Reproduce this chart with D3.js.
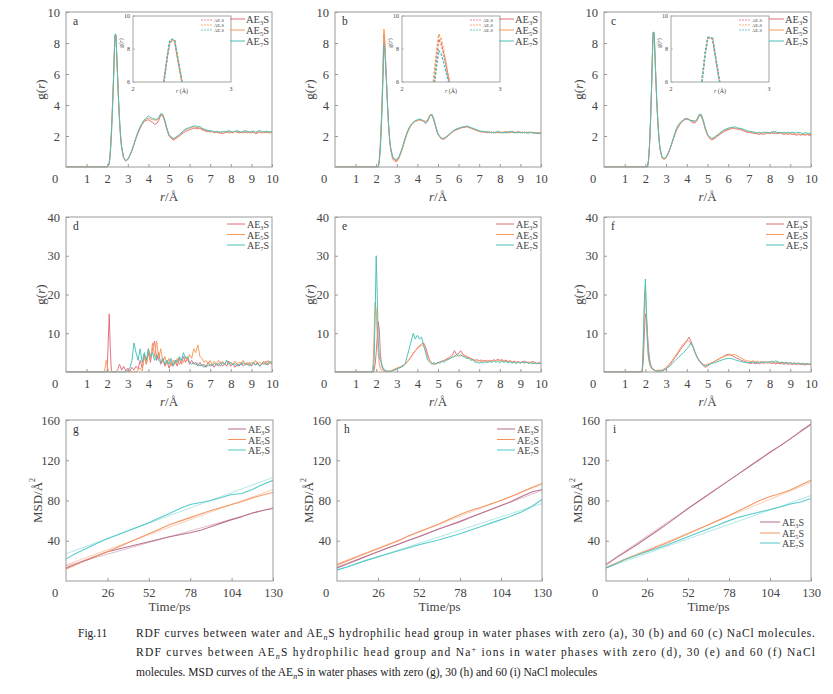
<!DOCTYPE html>
<html><head><meta charset="utf-8">
<script src="https://cdnjs.cloudflare.com/ajax/libs/d3/7.8.5/d3.min.js"></script>
<style>body{margin:0;background:#fff}svg{display:block}svg text{font-family:"Liberation Serif","Times New Roman",serif}</style>
</head><body><svg id="c" width="833" height="694"></svg>
<script>
// ---------- DATA ----------
const legendSubs = ["3","5","7"];
const rdfColors = ["#e36b78","#f49a5a","#46c0b8"];
const msdColors = ["#b86b8b","#f4925e","#50c8c8"];
const rdfXTicks = [1,2,3,4,5,6,7,8,9,10];
const rdfWaterYTicks = [2,4,6,8,10];
const rdfNaYTicks = [10,20,30,40];
const msdXTicks = [26,52,78,104,130];
const msdYTicks = [40,80,120,160];

const rWater = [0,2.0,2.1,2.15,2.2,2.25,2.3,2.325,2.35,2.375,2.4,2.425,2.45,2.475,2.5,2.55,2.6,2.65,2.7,2.8,2.9,
3.0,3.1,3.2,3.3,3.4,3.5,3.6,3.7,3.8,3.9,
4.0,4.1,4.2,4.3,4.4,4.5,4.6,4.7,4.8,4.9,
5.0,5.1,5.2,5.3,5.4,5.5,5.6,5.7,5.8,5.9,
6.0,6.1,6.2,6.3,6.4,6.5,6.6,6.7,6.8,6.9,
7.0,7.1,7.2,7.3,7.4,7.5,7.6,7.7,7.8,7.9,
8.0,8.1,8.2,8.3,8.4,8.5,8.6,8.7,8.8,8.9,
9.0,9.1,9.2,9.3,9.4,9.5,9.6,9.7,9.8,9.9,10.0];

const gA3 = [0,0,0.3,1,2.2,3.8,5.5,6.5,7.5,8.4,8.5,8.5,7.6,6.8,6.0,4.4,3.0,2.0,1.3,0.6,0.4,
0.5,0.75,1.05,1.45,1.85,2.2,2.5,2.75,2.95,3.0,
3.05,2.95,2.9,2.75,2.8,3.0,3.35,3.3,2.9,2.4,
2.0,1.85,1.75,1.8,1.9,2.0,2.1,2.2,2.3,2.35,
2.4,2.45,2.5,2.5,2.45,2.5,2.4,2.35,2.3,2.3,
2.25,2.3,2.2,2.25,2.2,2.2,2.15,2.2,2.25,2.2,
2.25,2.2,2.3,2.25,2.2,2.25,2.2,2.25,2.2,2.25,
2.2,2.25,2.15,2.2,2.25,2.2,2.25,2.2,2.25,2.2,2.25];
const gA5 = [0,0,0.2,0.9,2.0,3.6,5.4,6.4,7.5,8.4,8.55,8.5,7.6,6.8,5.9,4.3,2.9,1.9,1.2,0.55,0.38,
0.48,0.72,1.05,1.45,1.9,2.25,2.55,2.8,3.0,3.1,
3.15,3.1,3.05,3.05,3.0,3.15,3.4,3.35,2.95,2.45,
2.05,1.9,1.8,1.85,1.95,2.05,2.15,2.3,2.4,2.45,
2.5,2.55,2.6,2.55,2.55,2.5,2.5,2.4,2.35,2.35,
2.3,2.3,2.25,2.3,2.25,2.2,2.25,2.3,2.25,2.3,
2.2,2.25,2.3,2.25,2.3,2.2,2.3,2.25,2.3,2.2,
2.25,2.3,2.2,2.25,2.3,2.2,2.25,2.3,2.2,2.25,2.2];
const gA7 = [0,0,0.2,0.8,1.9,3.5,5.3,6.4,7.6,8.5,8.6,8.5,7.7,6.9,6.0,4.4,3.0,2.0,1.3,0.6,0.4,
0.5,0.75,1.1,1.5,1.9,2.3,2.6,2.85,3.05,3.15,
3.3,3.2,3.15,3.1,3.05,3.2,3.45,3.4,3.0,2.5,
2.1,1.95,1.85,1.9,2.0,2.1,2.2,2.35,2.45,2.5,
2.55,2.6,2.65,2.65,2.6,2.6,2.5,2.45,2.4,2.35,
2.35,2.3,2.3,2.25,2.3,2.25,2.3,2.25,2.3,2.35,
2.3,2.25,2.3,2.35,2.3,2.25,2.3,2.35,2.3,2.25,
2.3,2.3,2.25,2.3,2.35,2.3,2.25,2.3,2.3,2.25,2.3];

const gB3 = [0,0,0,0.4,1.3,2.8,4.8,6.0,7.4,8.6,8.3,7.7,7.0,6.2,5.5,4.0,2.7,1.8,1.2,0.6,0.45,
0.4,0.6,0.95,1.35,1.8,2.2,2.5,2.7,2.85,2.95,
3.0,3.05,3.0,2.95,2.85,3.0,3.3,3.35,3.0,2.5,
2.1,1.9,1.8,1.8,1.9,2.0,2.15,2.25,2.35,2.4,
2.45,2.5,2.55,2.55,2.6,2.55,2.5,2.45,2.4,2.35,
2.3,2.3,2.25,2.25,2.2,2.25,2.2,2.25,2.2,2.25,
2.2,2.25,2.2,2.25,2.2,2.25,2.3,2.25,2.2,2.25,
2.2,2.25,2.2,2.25,2.2,2.25,2.2,2.2,2.15,2.2,2.2];
const gB5 = [0,0,0,0.5,1.5,3.0,5.0,6.3,7.7,8.9,8.6,7.9,7.1,6.3,5.6,4.0,2.7,1.7,1.1,0.5,0.35,
0.35,0.55,0.9,1.3,1.75,2.15,2.45,2.7,2.85,2.95,
3.0,3.05,3.05,3.0,2.95,3.05,3.35,3.4,3.05,2.55,
2.1,1.9,1.8,1.85,1.95,2.05,2.15,2.25,2.35,2.45,
2.5,2.55,2.55,2.6,2.6,2.55,2.5,2.45,2.4,2.35,
2.3,2.25,2.3,2.25,2.25,2.2,2.25,2.2,2.25,2.2,
2.25,2.2,2.25,2.3,2.25,2.2,2.25,2.2,2.25,2.3,
2.25,2.2,2.25,2.2,2.25,2.2,2.25,2.15,2.2,2.2,2.15];
const gB7 = [0,0,0,0.3,1.1,2.5,4.3,5.5,6.8,7.9,7.7,7.2,6.6,6.0,5.4,4.0,2.8,1.9,1.3,0.65,0.5,
0.5,0.65,1.0,1.4,1.85,2.25,2.55,2.75,2.9,3.0,
3.05,3.1,3.05,2.95,2.8,2.95,3.3,3.4,3.1,2.6,
2.15,1.95,1.85,1.85,1.95,2.05,2.2,2.3,2.4,2.45,
2.5,2.55,2.6,2.6,2.65,2.6,2.55,2.5,2.45,2.4,
2.35,2.3,2.3,2.25,2.3,2.25,2.25,2.2,2.25,2.3,
2.25,2.2,2.25,2.2,2.25,2.3,2.25,2.2,2.25,2.2,
2.25,2.2,2.25,2.2,2.2,2.25,2.2,2.2,2.2,2.15,2.2];

const gC3 = [0,0,0,0.4,1.4,3.0,5.2,6.5,7.7,8.65,8.7,8.6,7.6,6.7,5.8,4.2,2.9,1.9,1.2,0.6,0.5,
0.6,0.85,1.2,1.6,2.0,2.35,2.6,2.8,2.95,3.05,
3.1,3.05,2.95,2.85,2.85,3.0,3.3,3.3,2.9,2.4,
2.05,1.85,1.75,1.8,1.9,2.0,2.1,2.2,2.3,2.35,
2.4,2.45,2.5,2.5,2.45,2.45,2.4,2.35,2.3,2.25,
2.25,2.2,2.2,2.15,2.15,2.1,2.15,2.1,2.15,2.2,
2.15,2.2,2.15,2.2,2.15,2.2,2.15,2.1,2.15,2.1,
2.15,2.1,2.1,2.05,2.1,2.05,2.1,2.05,2.1,2.05,2.05];
const gC5 = [0,0,0,0.45,1.5,3.1,5.3,6.6,7.8,8.7,8.7,8.6,7.7,6.8,5.9,4.2,2.9,1.9,1.2,0.6,0.5,
0.6,0.85,1.2,1.6,2.05,2.4,2.65,2.85,3.0,3.1,
3.15,3.1,3.0,2.95,2.95,3.05,3.35,3.35,2.95,2.45,
2.1,1.9,1.8,1.85,1.95,2.05,2.15,2.25,2.35,2.4,
2.45,2.5,2.55,2.5,2.5,2.45,2.45,2.4,2.35,2.3,
2.25,2.25,2.2,2.2,2.15,2.2,2.15,2.2,2.25,2.2,
2.2,2.25,2.2,2.25,2.2,2.2,2.15,2.2,2.15,2.2,
2.15,2.2,2.15,2.1,2.15,2.1,2.15,2.1,2.1,2.1,2.1];
const gC7 = [0,0,0,0.4,1.4,3.0,5.2,6.5,7.8,8.7,8.7,8.65,7.7,6.8,5.9,4.3,3.0,2.0,1.3,0.65,0.55,
0.65,0.9,1.25,1.65,2.1,2.5,2.75,2.9,3.0,3.1,
3.1,3.05,3.0,3.0,2.95,3.1,3.4,3.4,3.0,2.5,
2.1,1.95,1.85,1.9,2.0,2.1,2.2,2.3,2.4,2.45,
2.5,2.55,2.55,2.6,2.55,2.5,2.5,2.45,2.4,2.35,
2.3,2.3,2.25,2.25,2.2,2.25,2.2,2.25,2.2,2.25,
2.2,2.25,2.3,2.25,2.2,2.25,2.2,2.25,2.2,2.25,
2.2,2.25,2.2,2.2,2.25,2.2,2.15,2.2,2.2,2.15,2.2];

const rNa = [0,1.8,1.85,1.9,1.95,2.0,2.05,2.1,2.15,2.2,2.25,2.3,2.4,
2.5,2.6,2.7,2.8,2.9,
3.0,3.1,3.2,3.3,3.4,3.5,3.6,3.7,3.8,3.9,
4.0,4.1,4.2,4.3,4.4,4.5,4.6,4.7,4.8,4.9,
5.0,5.1,5.2,5.3,5.4,5.5,5.6,5.7,5.8,5.9,
6.0,6.1,6.2,6.3,6.4,6.5,6.6,6.7,6.8,6.9,
7.0,7.1,7.2,7.3,7.4,7.5,7.6,7.7,7.8,7.9,
8.0,8.1,8.2,8.3,8.4,8.5,8.6,8.7,8.8,8.9,
9.0,9.1,9.2,9.3,9.4,9.5,9.6,9.7,9.8,9.9,10.0];

const gD3 = [0,0,0,0,0,0.5,8,15,6,0.5,0,0,0,
0.5,2,0.5,1.5,0.3,
1,0.2,1.2,0.5,1.5,0.8,3,1,4.5,2,
5,2.5,6,8,3,5,2,3.5,1.5,3,
1,2.5,1.5,3,1.5,3.5,2,4,2.5,3.5,
2,3,2,2.5,1.5,2.5,1.5,2,1.2,2.5,
1.5,2,1.2,2.2,1.5,2.5,1.5,2.2,1.5,2.8,
1.5,2.2,1.2,2,1.5,2.5,1.5,2.2,1.8,2.5,
1.5,2.2,1.8,2.5,1.5,2.2,2,2.8,1.8,2.5,2];
const gD5 = [0,0,0,1,3,2,0,0,0,0,0,0,0,
0,0,0,0,0,
0,0,0,0,0,0.5,1,0.3,4,2,
6,3,7.5,4,8,3.5,6,2.5,4,2,
3.5,1.5,3,2,3.5,2,3,2.5,4,3,
4.5,3.5,6,5,7,4,3.5,2.5,3,2,
3,1.8,2.8,2,3,2.2,2.8,2,3,2.2,
2.5,1.8,2.8,2,2.5,2.2,3,2,2.5,1.8,
2.5,2.2,3,2,2.5,2.2,2.8,2,3,2.2,2.8];
const gD7 = [0,0,0,0,0,0,0,0,0,0,0,0,0,
0,0,0,0,0,
0.5,1,3,7.5,5,3,6,2.5,5,3,
6,4,5,3,4.5,3,2.5,3.5,2,3,
2,3.5,1.5,3,2.5,4,3,5,3.5,4,
2.5,2,2.5,1.8,2.2,1.5,2,1.2,1.8,1.5,
2,1.5,2.2,1.8,2.2,1.5,2.5,2,3,2,
2.5,1.8,2.2,1.5,2,1.8,2.5,1.8,2.2,1.5,
2,2.5,1.8,2.2,1.5,2,2.5,1.8,2.2,2.8,2.2];

const gE3 = [0,0,0,0.5,2,5,9,13,11,5,2,1,0.3,
0.1,0.1,0.2,0.4,0.6,
0.9,1.1,1.4,1.7,2,2.6,3.2,4,4.8,5.5,
6.2,6.8,7.2,7.5,6.5,4.5,3,2.2,2,2.2,
2.4,2.6,2.8,3,3.3,3.6,4,4.4,5.5,4.5,
4.8,5.5,4.6,4.3,4,3.7,3.5,3.2,3,3.2,
2.9,3.1,2.8,3,2.7,3,2.8,3.2,2.9,3.3,
3,3.2,2.8,3.1,2.7,2.9,2.6,2.8,2.5,2.7,
2.4,2.6,2.8,2.5,2.3,2.5,2.7,2.4,2.2,2.4,2.2];
const gE5 = [0,0,2,10,18,16,10,5,2,1,0.5,0.3,0.2,
0.2,0.2,0.3,0.5,0.8,
1,1.2,1.3,1.6,2,2.5,3.2,4,4.8,5.5,
6,6.5,7,6.8,5.5,4,3,2.3,2,2.2,
2.3,2.5,2.7,2.9,3.1,3.4,3.6,3.9,4.2,4.1,
4.4,4.2,4.3,4,3.8,3.6,3.4,3.1,3,2.8,
2.9,2.7,2.9,2.8,3,2.7,2.9,2.8,3,3.1,
2.8,3,2.7,2.9,2.6,2.8,2.5,2.7,2.4,2.6,
2.4,2.5,2.3,2.5,2.6,2.4,2.3,2.5,2.2,2.4,2.2];
const gE7 = [0,0,0,3,15,30,20,8,4,3,2.5,1.5,0.5,
0.3,0.2,0.2,0.3,0.5,
0.8,1,1.2,1.5,2,4,6,8,10,8.5,
9.5,8.5,9,7,5,3,2.5,2,2.5,2,
2.5,2.3,2.8,2.5,3,3.2,3.5,3.8,4,4.5,
4,4.5,4,3.8,3.5,3.5,3,3.2,2.5,2.5,
2.3,2.5,2.3,2.6,2.4,2.7,2.5,2.8,2.5,2.7,
2.4,2.8,2.5,2.7,2.4,2.6,2.3,2.5,2.2,2.5,
2.3,2.6,2.4,2.5,2.2,2.4,2.1,2.3,2.1,2.3,2.1];

const gF3 = [0,0,0,3,10,15,14,10,6,3.5,2,1.2,0.6,
0.3,0.2,0.5,0.2,0.6,
0.8,1.5,2,2.8,3.5,4.2,5,5.8,6.5,7.2,
8,9,8,6.5,5,3.8,2.8,2.2,1.6,1.2,
1.5,1.9,2.3,2.6,2.9,3.2,3.5,3.8,4.1,4.4,
4.6,4.4,4.2,3.9,3.6,3.4,3.1,2.9,2.7,2.5,
2.3,2.2,2.4,2.1,2.3,2.1,2.4,2.2,2.5,2.3,
2.4,2.2,2.3,2.1,2.3,2.1,2.2,2,2.2,2,
2.1,1.9,2.1,1.9,2.1,1.9,2,1.8,2,1.9,2];
const gF5 = [0,0,1,8,17,22,14,7,3.5,2,1.2,0.8,0.5,
0.3,0.5,0.3,0.5,0.8,
1.2,1.7,2.3,3,3.8,4.6,5.4,6.2,7,7.6,
8,8,7.5,6.5,5,3.8,3,2.4,2,1.8,
2,2.2,2.4,2.6,2.9,3.2,3.5,3.8,4,4.2,
4.3,4.5,4.4,4.5,4.3,4,3.7,3.4,3.1,2.9,
2.8,2.7,2.9,2.6,2.8,2.6,2.7,2.5,2.7,2.4,
2.6,2.5,2.7,2.4,2.6,2.4,2.5,2.3,2.5,2.3,
2.4,2.2,2.4,2.2,2.3,2.1,2.3,2.1,2.2,2,2.2];
const gF7 = [0,0,0.5,6,18,24,16,8,4,2.5,1.8,1.2,0.6,
0.3,0.2,0.2,0.3,0.5,
0.8,1.2,1.6,2.2,2.8,3.3,3.8,4.3,4.8,5.3,
6,6.5,7.5,6.5,5,3.8,3,2.3,1.8,1.5,
1.8,2,2.2,2.3,2.5,2.7,2.9,3.1,3.3,3.4,
3.5,3.5,3.4,3.2,3,2.9,2.7,2.6,2.5,2.4,
2.5,2.4,2.6,2.4,2.5,2.3,2.5,2.6,2.4,2.7,
2.5,2.8,2.5,2.9,2.6,2.4,2.6,2.3,2.5,2.2,
2.4,2.2,2.3,2.1,2.3,2.1,2.2,2,2.2,2,2.1];

const tMsd = [0,6.5,13,19.5,26,32.5,39,45.5,52,58.5,65,71.5,78,84.5,91,97.5,104,110.5,117,123.5,130];
const tFit = [0,130];
const msdG3 = [13,17,21,25,29,31.5,34,36.5,39,41.5,44,46,48,50.5,54,57.5,61,64,67.5,70,72];
const msdG5 = [12,16.5,21,25,29,33.5,38,42.5,47,51.5,56,59.5,63,66.5,70,73,76,79,82.5,85.5,88];
const msdG7 = [22,27.5,32.5,37.5,42,46,50,54,58,62.5,67,72,76,78,80,83,86,87,91,96,100];
const fitG3 = [15,73], fitG5 = [16,91], fitG7 = [27,103];
const msdH3 = [13,17,21,25,29,33,36.5,40.5,44,48,52,55.5,59,63,67,71,75,79,84,88.5,91];
const msdH5 = [16,20,24,28,32,36,40,45,49,53,57,61.5,66,70,73,76.5,80,84,88.5,93,97];
const msdH7 = [11,14,17.5,21,24,27,30,33,36,38.5,41,44,47,50.5,54,57.5,61,64.5,68.5,74,81];
const fitH3 = [14,90], fitH5 = [17,96], fitH7 = [11,77];
const msdI3 = [16,23,29.5,36,43,50,57,64.5,72,79,86,93,100,107,114,121,128,134.5,141.5,149,156];
const msdI5 = [13,17.5,22,26,30,34,38,42.5,47,51.5,56,60.5,65,70,75,80,84,87,90.5,95.5,100];
const msdI7 = [13,17.5,22,25.5,29,32.5,36,40,44,48,52,56,60,63.5,66,68.5,71,73.5,76.5,78.5,82];
const fitI3 = [17,155], fitI5 = [14,98], fitI7 = [13,85];

// ---------- DRAWING ----------
const font = '"Liberation Serif","Times New Roman",serif';
const axisCol = "#9a9a9a", textCol = "#444";
const svg = d3.select("#c").style("font-family", font);
const defs = svg.append("defs");

function aeText(sel, x, y, n, fs, col) {
  const t = sel.append("text").attr("x", x).attr("y", y).attr("font-size", fs)
    .attr("fill", col || textCol).attr("dominant-baseline", "central");
  t.append("tspan").text("AE");
  t.append("tspan").attr("font-size", fs * 0.62).attr("dy", fs * 0.25).text(n);
  t.append("tspan").attr("dy", -fs * 0.25).text("S");
  return t;
}

function drawPanel(p) {
  const x = d3.scaleLinear().domain(p.xd).range([p.l, p.r]);
  const y = d3.scaleLinear().domain(p.yd).range([p.b, p.t]);
  const g = svg.append("g");
  const cid = "clip-" + p.letter;
  defs.append("clipPath").attr("id", cid).append("rect")
    .attr("x", p.l).attr("y", p.t).attr("width", p.r - p.l).attr("height", p.b - p.t + 0.5);

  const line = d3.line().x(d => x(d[0])).y(d => y(d[1]));
  const cg = g.append("g").attr("clip-path", `url(#${cid})`);
  p.series.forEach(s => {
    cg.append("path").datum(d3.zip(s.xs, s.ys)).attr("d", line)
      .attr("fill", "none").attr("stroke", s.color).attr("stroke-width", s.w || 1)
      .attr("stroke-opacity", s.op || 0.95).attr("stroke-linejoin", "round");
  });

  g.append("rect").attr("x", p.l).attr("y", p.t).attr("width", p.r - p.l).attr("height", p.b - p.t)
    .attr("fill", "none").attr("stroke", axisCol).attr("stroke-width", 1);

  const xa = g.append("g").attr("transform", `translate(0,${p.b})`)
    .call(d3.axisBottom(x).tickValues(p.xt).tickSizeInner(-3).tickSizeOuter(0).tickPadding(7).tickFormat(d3.format("d")));
  const ya = g.append("g").attr("transform", `translate(${p.l},0)`)
    .call(d3.axisLeft(y).tickValues(p.yt).tickSizeInner(-3).tickSizeOuter(0).tickPadding(6).tickFormat(d3.format("d")));
  [xa, ya].forEach(a => {
    a.attr("font-family", null).attr("font-size", null);
    a.select(".domain").remove();
    a.selectAll("line").attr("stroke", axisCol);
    a.selectAll("text").style("font-family", font).attr("font-size", 12.5).attr("fill", textCol);
  });
  g.append("text").attr("x", p.l - 11).attr("y", p.b + 16).attr("text-anchor", "middle")
    .attr("font-size", 12.5).attr("fill", textCol).text("0");

  g.append("text").attr("x", p.l + 7).attr("y", p.t + 9).attr("dominant-baseline", "central")
    .attr("font-size", 11.5).attr("fill", "#333").text(p.letter);

  // axis titles
  const xt = g.append("text").attr("x", (p.l + p.r) / 2).attr("y", p.b + p.xtOff)
    .attr("text-anchor", "middle").attr("font-size", 13).attr("fill", textCol);
  const yt = g.append("text").attr("transform", `translate(${p.l - p.ytOff},${(p.t + p.b) / 2}) rotate(-90)`)
    .attr("text-anchor", "middle").attr("dominant-baseline", "central").attr("font-size", 13).attr("fill", textCol);
  if (p.kind === "msd") {
    xt.text("Time/ps");
    yt.append("tspan").text("MSD/Å");
    yt.append("tspan").attr("font-size", 8).attr("dy", -5).text("2");
  } else {
    xt.append("tspan").attr("font-style", "italic").text("r");
    xt.append("tspan").text("/Å");
    yt.append("tspan").text("g(");
    yt.append("tspan").attr("font-style", "italic").text("r");
    yt.append("tspan").text(")");
  }

  // inset
  if (p.inset) {
    const ix = p.l + 67, iy = p.t + 4, iw = 98, ih = 66;
    const sx = d3.scaleLinear().domain([2, 3]).range([ix, ix + iw]);
    const sy = d3.scaleLinear().domain([6, 10]).range([iy + ih, iy]);
    const icid = "iclip-" + p.letter;
    defs.append("clipPath").attr("id", icid).append("rect").attr("x", ix).attr("y", iy).attr("width", iw).attr("height", ih);
    const ig = g.append("g");
    ig.append("rect").attr("x", ix).attr("y", iy).attr("width", iw).attr("height", ih).attr("fill", "#fff");
    const il = d3.line().x(d => sx(d[0])).y(d => sy(d[1]));
    const icg = ig.append("g").attr("clip-path", `url(#${icid})`);
    p.series.forEach(s => {
      icg.append("path").datum(d3.zip(s.xs, s.ys)).attr("d", il).attr("fill", "none")
        .attr("stroke", s.color).attr("stroke-width", 1.4).attr("stroke-dasharray", "2.5,1.5");
    });
    ig.append("rect").attr("x", ix).attr("y", iy).attr("width", iw).attr("height", ih)
      .attr("fill", "none").attr("stroke", axisCol).attr("stroke-width", 0.9);
    [6, 8, 10].forEach(v => {
      ig.append("line").attr("x1", ix).attr("x2", ix + 2).attr("y1", sy(v)).attr("y2", sy(v)).attr("stroke", axisCol).attr("stroke-width", 0.6);
      ig.append("text").attr("x", ix - 3).attr("y", sy(v)).attr("text-anchor", "end").attr("dominant-baseline", "central")
        .attr("font-size", 6).attr("fill", textCol).text(v);
    });
    [2, 3].forEach(v => {
      ig.append("text").attr("x", sx(v)).attr("y", iy + ih + 7).attr("text-anchor", "middle")
        .attr("dominant-baseline", "central").attr("font-size", 6).attr("fill", textCol).text(v);
    });
    const ixt = ig.append("text").attr("x", ix + iw / 2).attr("y", iy + ih + 9).attr("text-anchor", "middle")
      .attr("dominant-baseline", "central").attr("font-size", 6).attr("fill", textCol);
    ixt.append("tspan").attr("font-style", "italic").text("r");
    ixt.append("tspan").text(" (Å)");
    const iyt = ig.append("text").attr("transform", `translate(${ix - 12},${iy + ih / 2 - 6}) rotate(-90)`)
      .attr("text-anchor", "middle").attr("dominant-baseline", "central").attr("font-size", 6).attr("fill", textCol);
    iyt.append("tspan").text("g(");
    iyt.append("tspan").attr("font-style", "italic").text("r");
    iyt.append("tspan").text(")");
    p.series.forEach((s, i) => {
      const yy = iy + 4 + i * 5;
      ig.append("line").attr("x1", ix + iw - 30).attr("x2", ix + iw - 19).attr("y1", yy).attr("y2", yy)
        .attr("stroke", s.color).attr("stroke-width", 0.8).attr("stroke-dasharray", "2,1");
      aeText(ig, ix + iw - 17, yy, legendSubs[i], 4.6);
    });
  }

  // legend
  const L = p.legend;
  p.series.filter(s => !s.fit).forEach((s, i) => {
    const yy = L.ys[i];
    g.append("line").attr("x1", L.x1).attr("x2", L.x2).attr("y1", yy).attr("y2", yy)
      .attr("stroke", s.color).attr("stroke-width", 1);
    aeText(g, L.tx, yy, legendSubs[i], L.fs);
  });
}

function rdfSeries(xs, arrs) {
  return arrs.map((a, i) => ({ xs: xs, ys: a, color: rdfColors[i], w: 1 }));
}
function msdSeries(main, fits) {
  const out = main.map((a, i) => ({ xs: tMsd, ys: a, color: msdColors[i], w: 1.1 }));
  fits.forEach((a, i) => out.push({ xs: tFit, ys: a, color: msdColors[i], w: 0.8, op: 0.55, fit: true }));
  return out;
}

const cols = [[66, 272], [335, 541], [604, 811]];
const cols3 = [[66, 273], [337, 542], [606, 811]];
const rowA = { t: 12, b: 167 }, rowD = { t: 217, b: 372 }, rowG = { t: 420, b: 581 };

function stdLegend(r, t, top) {
  return top ? { x1: r - 42, x2: r - 27, tx: r - 26, ys: [t + 7, t + 18, t + 29], fs: 10.5 }
             : { x1: r - 45, x2: r - 27, tx: r - 25, ys: [t + 7, t + 17.5, t + 28], fs: 10 };
}

const waterSets = [[gA3, gA5, gA7], [gB3, gB5, gB7], [gC3, gC5, gC7]];
const naSets = [[gD3, gD5, gD7], [gE3, gE5, gE7], [gF3, gF5, gF7]];
const msdSets = [[[msdG3, msdG5, msdG7], [fitG3, fitG5, fitG7]],
                 [[msdH3, msdH5, msdH7], [fitH3, fitH5, fitH7]],
                 [[msdI3, msdI5, msdI7], [fitI3, fitI5, fitI7]]];

["a", "b", "c"].forEach((letter, i) => {
  const [l, r] = cols[i];
  drawPanel({ letter, kind: "rdf", l, r, t: rowA.t, b: rowA.b, xd: [0, 10], yd: [0, 10],
    xt: rdfXTicks, yt: rdfWaterYTicks, xtOff: 34, ytOff: 26, inset: true,
    series: rdfSeries(rWater, waterSets[i]), legend: stdLegend(r, rowA.t, true) });
});
["d", "e", "f"].forEach((letter, i) => {
  const [l, r] = cols[i];
  drawPanel({ letter, kind: "rdf", l, r, t: rowD.t, b: rowD.b, xd: [0, 10], yd: [0, 40],
    xt: rdfXTicks, yt: rdfNaYTicks, xtOff: 34, ytOff: 26, inset: false,
    series: rdfSeries(rNa, naSets[i]), legend: stdLegend(r, rowD.t, false) });
});
["g", "h", "i"].forEach((letter, i) => {
  const [l, r] = cols3[i];
  const leg = i === 2 ? { x1: r - 51, x2: r - 31, tx: r - 29, ys: [rowG.t + 102, rowG.t + 113, rowG.t + 123], fs: 10 }
                      : stdLegend(r, rowG.t + 2, false);
  drawPanel({ letter, kind: "msd", l, r, t: rowG.t, b: rowG.b, xd: [0, 130], yd: [0, 160],
    xt: msdXTicks, yt: msdYTicks, xtOff: 30, ytOff: 29, inset: false,
    series: msdSeries(msdSets[i][0], msdSets[i][1]), legend: leg });
});

// ---------- CAPTION ----------
const cap = svg.append("g").attr("font-size", 11.5).attr("fill", "#222");
cap.append("text").attr("x", 78).attr("y", 637).text("Fig.11");
function capLine(y, parts, len) {
  const t = cap.append("text").attr("x", 136).attr("y", y);
  if (len) t.attr("textLength", len).attr("lengthAdjust", "spacing");
  parts.forEach(pt => {
    const s = t.append("tspan").text(pt[0]);
    if (pt[1] === "sub") s.attr("font-style", "italic").attr("font-size", 8).attr("dy", 3);
    if (pt[1] === "after") s.attr("dy", -3);
    if (pt[1] === "sup") s.attr("font-size", 8).attr("dy", -4);
    if (pt[1] === "aftersup") s.attr("dy", 4);
  });
}
capLine(637, [["RDF curves between water and AE"], ["n", "sub"], ["S hydrophilic head group in water phases with zero (a), 30 (b) and 60 (c) NaCl molecules.", "after"]], 679);
capLine(656, [["RDF curves between AE"], ["n", "sub"], ["S hydrophilic head group and Na", "after"], ["+", "sup"], [" ions in water phases with zero (d), 30 (e) and 60 (f) NaCl", "aftersup"]], 679);
capLine(676, [["molecules. MSD curves of the AE"], ["n", "sub"], ["S in water phases with zero (g), 30 (h) and 60 (i) NaCl molecules", "after"]], null);
</script></body></html>
